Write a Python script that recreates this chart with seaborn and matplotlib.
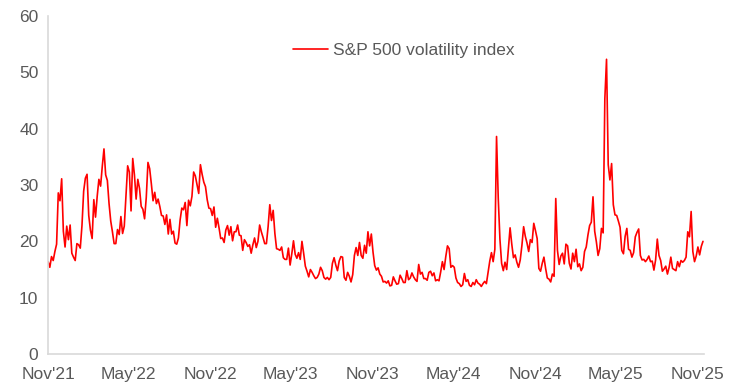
import numpy as np
import pandas as pd
import seaborn as sns
import matplotlib.pyplot as plt
import matplotlib.dates as mdates

# VIX readings, roughly 8 per month, Nov'21 -> mid Nov'25
vix_2021 = [
    16.4, 15.4, 17.3, 16.6, 18.2, 19.5, 28.6, 27.2,   # Nov
    31.1, 21.8, 19.0, 22.7, 20.3, 22.9, 17.9, 17.2,   # Dec
]
vix_2022 = [
    16.6, 19.6, 19.4, 18.8, 22.8, 28.9, 31.2, 31.9,   # Jan
    24.6, 22.0, 20.5, 27.4, 24.3, 28.0, 31.0, 29.8,   # Feb
    33.3, 36.4, 31.8, 30.8, 26.7, 23.6, 21.7, 19.6,   # Mar
    19.6, 22.1, 21.2, 24.4, 21.4, 22.7, 28.2, 33.4,   # Apr
    32.3, 25.4, 34.7, 31.8, 27.5, 31.0, 29.4, 26.2,   # May
    25.7, 24.0, 27.8, 34.0, 32.9, 30.2, 27.2, 28.7,   # Jun
    26.7, 27.5, 26.2, 24.6, 24.5, 23.0, 24.7, 21.3,   # Jul
    23.9, 21.3, 21.8, 19.7, 19.5, 20.6, 23.8, 25.9,   # Aug
    25.6, 26.9, 22.8, 27.3, 26.3, 28.0, 32.3, 31.6,   # Sep
    30.1, 28.5, 33.6, 31.9, 30.5, 29.7, 27.4, 25.9,   # Oct
    25.8, 24.6, 26.1, 22.5, 24.1, 22.4, 20.5, 20.6,   # Nov
    19.8, 22.0, 22.8, 21.1, 22.6, 20.1, 21.7, 21.7,   # Dec
]
vix_2023 = [
    22.9, 21.1, 21.0, 18.4, 20.3, 19.8, 19.1, 19.4,   # Jan
    17.9, 19.4, 20.6, 18.9, 20.0, 22.9, 21.7, 20.7,   # Feb
    19.6, 19.6, 22.6, 26.5, 23.7, 25.5, 21.4, 18.7,   # Mar
    18.6, 18.4, 19.0, 17.1, 16.8, 16.8, 18.8, 15.8,   # Apr
    17.8, 20.1, 17.7, 17.0, 18.0, 16.8, 20.0, 17.9,   # May
    15.6, 14.7, 13.7, 15.0, 14.5, 13.9, 13.4, 13.6,   # Jun
    14.2, 15.4, 14.8, 13.6, 13.3, 13.6, 13.2, 13.6,   # Jul
    16.1, 17.1, 15.8, 14.8, 16.5, 17.3, 17.2, 13.6,   # Aug
    13.1, 14.5, 13.8, 12.8, 14.1, 17.5, 18.9, 17.5,   # Sep
    19.8, 17.5, 17.0, 19.3, 17.9, 21.7, 19.2, 21.3,   # Oct
    18.1, 15.7, 14.9, 15.3, 14.2, 13.8, 12.8, 12.9,   # Nov
    12.6, 13.0, 12.1, 12.2, 13.7, 13.0, 12.4, 12.5,   # Dec
]
vix_2024 = [
    14.0, 13.4, 12.7, 12.7, 14.8, 13.2, 13.5, 14.4,   # Jan
    13.7, 13.2, 12.9, 15.9, 14.2, 14.5, 13.4, 13.4,   # Feb
    13.1, 14.5, 14.7, 13.9, 14.4, 13.0, 13.2, 13.0,   # Mar
    14.6, 16.4, 15.0, 17.3, 19.2, 18.7, 15.4, 15.7,   # Apr
    15.4, 13.5, 12.7, 12.5, 12.0, 12.3, 14.3, 12.9,   # May
    13.2, 12.2, 12.0, 12.7, 12.3, 13.2, 12.6, 12.4,   # Jun
    12.0, 12.5, 12.9, 12.5, 14.5, 16.5, 18.0, 16.4,   # Jul
    18.6, 38.6, 27.7, 20.4, 16.1, 14.8, 16.3, 15.0,   # Aug
    18.6, 22.4, 19.5, 17.1, 17.6, 16.3, 15.4, 16.7,   # Sep
    19.3, 22.6, 20.9, 19.7, 18.2, 20.3, 19.8, 23.2,   # Oct
    21.9, 20.5, 15.2, 14.7, 16.1, 17.2, 15.2, 13.5,   # Nov
    13.3, 12.8, 14.2, 13.8, 27.6, 18.4, 15.9, 17.4,   # Dec
]
vix_2025 = [
    17.9, 16.0, 19.5, 19.2, 16.1, 15.1, 17.9, 16.4,   # Jan
    18.6, 15.5, 16.0, 14.8, 15.4, 18.2, 19.0, 21.1,   # Feb
    22.8, 23.4, 27.9, 21.8, 19.9, 17.5, 18.7, 22.3,   # Mar
    21.5, 45.3, 52.3, 33.6, 30.9, 33.8, 26.5, 24.7,   # Apr
    24.6, 23.6, 22.5, 18.4, 17.8, 20.9, 22.3, 18.6,   # May
    18.4, 17.2, 18.0, 20.8, 21.6, 22.2, 17.5, 16.7,   # Jun
    16.8, 16.4, 16.8, 17.4, 16.4, 16.5, 14.9, 16.7,   # Jul
    20.4, 17.5, 16.6, 14.7, 15.1, 15.6, 14.2, 15.4,   # Aug
    17.2, 15.2, 15.0, 14.8, 16.4, 15.5, 16.6, 16.3,   # Sep
    16.6, 17.2, 21.7, 20.8, 25.3, 18.2, 16.4, 17.4,   # Oct
    19.0, 17.6, 19.1, 20.0,                           # Nov
]

values = vix_2021 + vix_2022 + vix_2023 + vix_2024 + vix_2025
dates = pd.date_range("2021-11-01", "2025-11-14", periods=len(values))
df = pd.DataFrame({"date": dates, "vix": values})

tick_dates = pd.date_range("2021-11-01", "2025-11-01", freq="6MS")

sns.set_style("white")
plt.rcParams["font.family"] = ["Liberation Sans", "DejaVu Sans"]

grey_txt = "#595959"
grey_axis = "#d9d9d9"

fig = plt.figure(figsize=(7.52, 3.87), dpi=100)
ax = fig.add_axes([0.064, 0.085, 0.872, 0.874])

sns.lineplot(data=df, x="date", y="vix", color="#ff0000", linewidth=1.2,
             label="S&P 500 volatility index", ax=ax)

ax.set_ylim(0, 60)
ax.set_yticks(range(0, 61, 10))
ax.set_xlim(pd.Timestamp("2021-11-01"), pd.Timestamp("2025-11-16"))
ax.set_xticks(tick_dates)
ax.xaxis.set_major_formatter(mdates.DateFormatter("%b'%y"))
ax.set(xlabel="", ylabel="")

for side in ["top", "right"]:
    ax.spines[side].set_visible(False)
for side in ["left", "bottom"]:
    ax.spines[side].set_color(grey_axis)
    ax.spines[side].set_linewidth(1.2)

ax.tick_params(axis="both", colors=grey_axis, labelcolor=grey_txt,
               labelsize=12.5, length=4, width=1.2, direction="out")
ax.tick_params(axis="x", pad=5)
ax.tick_params(axis="y", pad=3)

leg = ax.legend(loc="upper left", bbox_to_anchor=(0.35, 0.965), frameon=False,
                fontsize=12.5, handlelength=2.0, handletextpad=0.3)
for t in leg.get_texts():
    t.set_color(grey_txt)

fig.savefig("out.png", dpi=100)
